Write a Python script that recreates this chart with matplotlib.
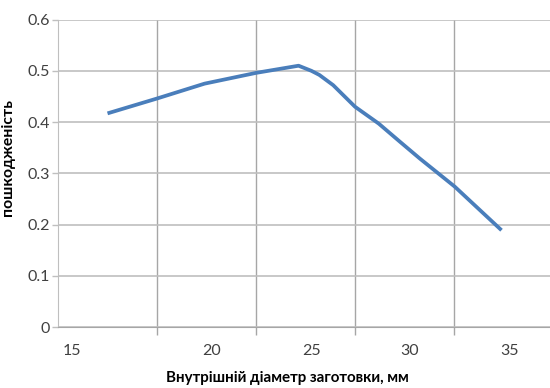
import matplotlib.pyplot as plt

# дані
diametr = [17.5, 20.0, 22.4, 25.0, 27.15, 27.8, 28.2, 28.9, 30.0, 31.2, 32.26, 33.27, 35.04, 37.4]
poshkodzh = [0.417, 0.446, 0.475, 0.496, 0.510, 0.500, 0.492, 0.472, 0.430, 0.397, 0.362, 0.329, 0.274, 0.189]

x_grid = [20, 25, 30, 35]
x_labels = ['15', '20', '25', '30', '35']
x_label_pos = [15.69, 22.78, 27.79, 32.78, 37.79]
y_ticks = [0, 0.1, 0.2, 0.3, 0.4, 0.5, 0.6]
y_labels = ['0', '0.1', '0.2', '0.3', '0.4', '0.5', '0.6']

plt.rcParams['font.family'] = ['Lato', 'DejaVu Sans']

fig = plt.figure(figsize=(5.5, 3.88), dpi=100)
ax = fig.add_axes([0.1055, 0.157, 0.8945, 0.7925])

ax.plot(diametr, poshkodzh, color='#4A7EBB', linewidth=2.7, solid_capstyle='butt', zorder=3)

ax.set_xlim(15, 39.85)
ax.set_ylim(0, 0.6)

# вертикальні лінії сітки з рисками під віссю
ax.set_xticks(x_grid)
ax.set_xticklabels([])
ax.tick_params(axis='x', which='major', direction='out', length=6, width=1, color='#A6A6A6')
ax.set_xticks(x_label_pos, minor=True)
ax.set_xticklabels(x_labels, minor=True)
ax.tick_params(axis='x', which='minor', length=0, pad=12, labelsize=11.5, labelcolor='#404040')
ax.xaxis.grid(True, which='major', color='#A6A6A6', linewidth=1)

ax.set_yticks(y_ticks)
ax.set_yticklabels(y_labels)
ax.tick_params(axis='y', direction='out', length=4, width=1, color='#BFBFBF', pad=2,
               labelsize=11.5, labelcolor='#404040')
ax.yaxis.grid(True, color='#BFBFBF', linewidth=1.2)
ax.set_axisbelow(True)

for s in ['top', 'right']:
    ax.spines[s].set_visible(False)
ax.spines['left'].set_color('#BFBFBF')
ax.spines['bottom'].set_color('#A6A6A6')

ax.set_xlabel('Внутрішній діаметр заготовки, мм', fontsize=10.9, fontweight='bold')
ax.set_ylabel('пошкодженість', fontsize=11.3, fontweight='bold')
ax.xaxis.set_label_coords(0.466, -0.143)
ax.yaxis.set_label_coords(-0.087, 0.55)

fig.savefig('out.png', dpi=100)
